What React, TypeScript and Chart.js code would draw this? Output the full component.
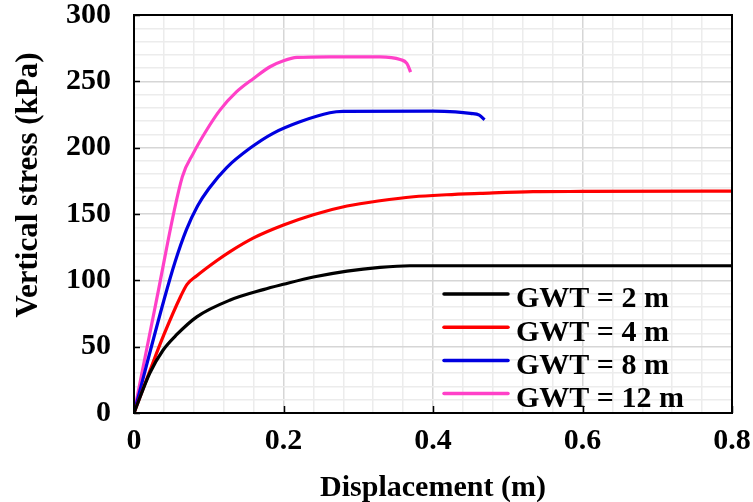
import React, { useEffect, useRef } from 'react';
import { Chart, registerables } from 'chart.js';

Chart.register(...registerables);

// ---- data ----
const SERIES_LABELS = ['GWT = 2 m', 'GWT = 4 m', 'GWT = 8 m', 'GWT = 12 m'];
const SERIES_COLORS = ['#000000', '#ff0000', '#0000e0', '#ff40c8'];

const GWT2_X = [0, 0.021, 0.039, 0.057, 0.084, 0.128, 0.173, 0.2, 0.24, 0.285, 0.329, 0.369, 0.4, 0.6, 0.8];
const GWT2_Y = [0, 30, 47.5, 59, 72.5, 85, 93, 97, 102.5, 107, 109.8, 111, 111, 111, 111];

const GWT4_X = [0, 0.02, 0.04, 0.0625, 0.071, 0.084, 0.111, 0.128, 0.16, 0.2, 0.24, 0.285, 0.329, 0.374, 0.418, 0.463, 0.534, 0.6, 0.8];
const GWT4_Y = [0, 30, 59, 88, 97, 103.5, 115, 121.5, 132, 141.7, 149.5, 156, 160, 163, 164.5, 165.5, 166.8, 167, 167.3];

const GWT8_X = [0, 0.04, 0.055, 0.07, 0.085, 0.1, 0.124, 0.155, 0.186, 0.222, 0.262, 0.28, 0.4, 0.43, 0.45, 0.462, 0.469];
const GWT8_Y = [0, 85, 114, 138, 156, 169, 185, 199.5, 210.8, 219.5, 226.3, 227.3, 227.6, 227, 225.8, 224.5, 221];

const GWT12_X = [0, 0.029, 0.0646, 0.0793, 0.0972, 0.115, 0.137, 0.16, 0.182, 0.2, 0.218, 0.262, 0.329, 0.356, 0.365, 0.37];
const GWT12_Y = [0, 82, 178, 195.7, 213.3, 228.3, 242, 252.2, 261, 265.5, 268, 268.5, 268.5, 266.5, 263.5, 257];

const SERIES_X = [GWT2_X, GWT4_X, GWT8_X, GWT12_X];
const SERIES_Y = [GWT2_Y, GWT4_Y, GWT8_Y, GWT12_Y];

const X_MAJOR = [0, 0.2, 0.4, 0.6, 0.8];
const Y_MAJOR = [0, 50, 100, 150, 200, 250, 300];
const X_TITLE = 'Displacement (m)';
const Y_TITLE = 'Vertical stress (kPa)';

const FONT_FAMILY = "'Liberation Serif', 'Times New Roman', serif";

const isMajor = (v: number, step: number) => Math.abs(v / step - Math.round(v / step)) < 1e-6;

const framePlugin = {
  id: 'frame',
  afterDraw(chart: any) {
    const { ctx, chartArea: a, scales } = chart;
    ctx.save();
    ctx.strokeStyle = '#000';
    ctx.lineWidth = 1.5;
    ctx.beginPath();
    for (const v of Y_MAJOR) {
      const y = Math.round(scales.y.getPixelForValue(v)) + 0.5;
      ctx.moveTo(a.left, y);
      ctx.lineTo(a.left + 6, y);
    }
    for (const v of X_MAJOR) {
      const x = Math.round(scales.x.getPixelForValue(v)) + 0.5;
      ctx.moveTo(x, a.bottom);
      ctx.lineTo(x, a.bottom - 7);
    }
    ctx.stroke();
    ctx.lineWidth = 2;
    ctx.strokeRect(a.left, a.top, a.right - a.left, a.bottom - a.top);

    // axis titles
    ctx.fillStyle = '#000';
    ctx.font = `bold 30px ${FONT_FAMILY}`;
    ctx.textAlign = 'center';
    ctx.textBaseline = 'alphabetic';
    ctx.fillText(X_TITLE, (a.left + a.right) / 2, 496);
    ctx.save();
    ctx.font = `bold 31px ${FONT_FAMILY}`;
    ctx.translate(37, 185);
    ctx.rotate(-Math.PI / 2);
    ctx.fillText(Y_TITLE, 0, 0);
    ctx.restore();

    // legend
    ctx.font = `bold 30px ${FONT_FAMILY}`;
    ctx.textAlign = 'left';
    chart.data.datasets.forEach((ds: any, i: number) => {
      const y = 294 + i * 33.2;
      ctx.strokeStyle = ds.borderColor;
      ctx.lineWidth = 3.5;
      ctx.lineCap = 'round';
      ctx.beginPath();
      ctx.moveTo(444, y);
      ctx.lineTo(508, y);
      ctx.stroke();
      ctx.fillStyle = '#000';
      ctx.fillText(ds.label, 516, y + 13.3);
    });
    ctx.restore();
  },
};

export default function App() {
  const ref = useRef<HTMLCanvasElement | null>(null);

  useEffect(() => {
    if (!ref.current) return;
    const datasets = SERIES_LABELS.map((label, i) => ({
      label,
      data: SERIES_X[i].map((x, j) => ({ x, y: SERIES_Y[i][j] })),
      borderColor: SERIES_COLORS[i],
      backgroundColor: SERIES_COLORS[i],
      borderWidth: 3.2,
      pointRadius: 0,
      showLine: true,
      fill: false,
      cubicInterpolationMode: 'monotone' as const,
    }));

    const chart = new Chart(ref.current, {
      type: 'scatter',
      data: { datasets },
      options: {
        animation: false,
        responsive: false,
        maintainAspectRatio: false,
        layout: { padding: { left: 0, right: 21, top: 15, bottom: 0 } },
        plugins: {
          legend: { display: false },
          tooltip: { enabled: false },
        },
        scales: {
          x: {
            type: 'linear',
            min: 0,
            max: 0.8,
            ticks: {
              stepSize: 0.04,
              autoSkip: false,
              maxRotation: 0,
              padding: 13,
              color: '#000',
              font: { family: FONT_FAMILY, size: 30, weight: 'bold', lineHeight: 1 },
              callback: (v: any) => (isMajor(Number(v), 0.2) ? String(Math.round(Number(v) * 10) / 10) : ''),
            },
            grid: {
              drawTicks: false,
              color: (c: any) => (isMajor(c.tick.value, 0.2) ? '#d6d6d6' : '#ececec'),
              lineWidth: 1.5,
            },
            border: { display: false },
            afterFit: (s: any) => {
              s.height = 89;
              s.paddingLeft = 0;
              s.paddingRight = 0;
            },
          },
          y: {
            type: 'linear',
            min: 0,
            max: 300,
            ticks: {
              stepSize: 10,
              autoSkip: false,
              padding: 23,
              color: '#000',
              font: { family: FONT_FAMILY, size: 30, weight: 'bold', lineHeight: 1 },
              callback: (v: any) => (isMajor(Number(v), 50) ? String(v) : ''),
            },
            grid: {
              drawTicks: false,
              color: (c: any) => (isMajor(c.tick.value, 50) ? '#d6d6d6' : '#ececec'),
              lineWidth: 1.5,
            },
            border: { display: false },
            afterFit: (s: any) => {
              s.width = 134;
              s.paddingTop = 0;
              s.paddingBottom = 0;
            },
          },
        },
      },
      plugins: [framePlugin],
    });
    return () => chart.destroy();
  }, []);

  return (
    <div style={{ position: 'fixed', left: 0, top: 0, width: 753, height: 502, background: '#fff' }}>
      <canvas ref={ref} width={753} height={502} style={{ width: 753, height: 502, display: 'block' }} />
    </div>
  );
}
